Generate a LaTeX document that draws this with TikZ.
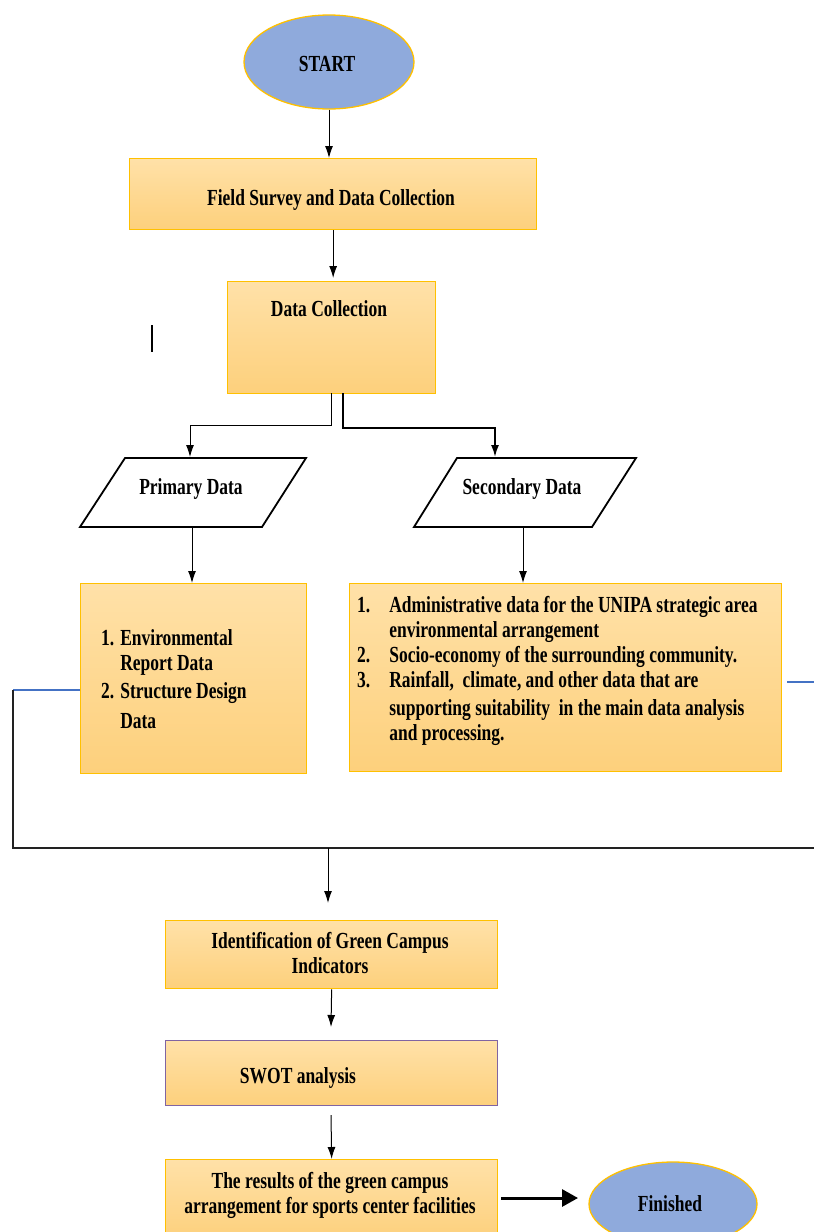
\documentclass[tikz,border=0pt]{standalone}
\usepackage{fontspec}
\setmainfont[FakeStretch=0.76]{Liberation Serif}
\usetikzlibrary{arrows.meta,calc,shapes.geometric}
\definecolor{boxtop}{HTML}{FFE1A8}
\definecolor{boxbot}{HTML}{FDD07C}
\definecolor{gold}{HTML}{FFC000}
\definecolor{ellfill}{HTML}{8FAADC}
\definecolor{purp}{HTML}{8064A2}
\definecolor{blueln}{HTML}{4472C4}
\definecolor{frame}{HTML}{222222}
\begin{document}
\begin{tikzpicture}[x=1pt,y=-1pt,
  box/.style={draw=gold,line width=1.3pt,top color=boxtop,bottom color=boxbot,inner sep=0pt,anchor=north west},
  oval/.style={ellipse,draw=gold,line width=1.3pt,fill=ellfill,inner sep=0pt},
  para/.style={draw=black,line width=1.8pt,fill=white,line join=miter},
  txt/.style={font=\fontsize{23}{25}\selectfont\bfseries,inner sep=0pt,align=center},
  conn/.style={draw=black,line width=1pt,-{Latex[length=12pt,width=8pt]}},
  framel/.style={draw=frame,line width=2pt},
  bluel/.style={draw=blueln,line width=1.6pt},
  bigarr/.style={draw=black,line width=3pt,-{Triangle[length=16pt,width=17pt]}}
]
\useasboundingbox (0,0) rectangle (814,1232);

% Start
\node[oval,minimum width=170pt,minimum height=94pt] (start) at (329,62) {};
\node[txt] (starttxt) at (327,64) {START};

% Field survey
\node[box,minimum width=407pt,minimum height=71pt] (field) at (129,158) {};
\node[txt] (fieldtxt) at (331,200) {Field Survey and Data Collection};

% Data collection
\node[box,minimum width=208pt,minimum height=112pt] (dc) at (227,281) {};
\node[txt] (dctxt) at (329,309) {Data Collection};

\draw[conn] (start.south) -- (start.south |- field.north);
\draw[conn,shorten >=3pt] (field.south) -- (field.south |- dc.north);

% stray mark
\draw[line width=2.6pt] (152,325) -- (152,352);

% Parallelograms
\draw[para] (125,458) -- (306,458) -- (262,527) -- (80,527) -- cycle;
\node[txt] (pd) at (191,489) {Primary Data};
\coordinate (pdin) at (190,457);
\coordinate (pdout) at (192,527);

\draw[para] (457,458) -- (636,458) -- (592,527) -- (414,527) -- cycle;
\node[txt] (sd) at (522,489) {Secondary Data};
\coordinate (sdin) at (495,457);
\coordinate (sdout) at (523,527);

% split from Data Collection
\coordinate (dcL) at (331,393);
\coordinate (dcR) at (343,393);
\draw[conn] (dcL) -- (331,425) -| (pdin);
\draw[conn,line width=1.8pt] (dcR) -- (343,428) -| (sdin);

% Lower boxes
\node[box,minimum width=226pt,minimum height=190pt] (pbox) at (80,583) {};
\node[txt,anchor=north west,align=left] (plist) at (101,628) {%
  \begin{tabular}{@{}l@{\hspace{6pt}}l@{}}
  1. & Environmental\\
     & Report Data\\[3pt]
  2. & Structure Design\\[5pt]
     & Data
  \end{tabular}};

\node[box,minimum width=432pt,minimum height=188pt] (sbox) at (349,583) {};
\node[txt,anchor=north west,align=left] (slist) at (357,595) {%
  \begin{tabular}{@{}l@{\hspace{19pt}}l@{}}
  1. & Administrative data for the UNIPA strategic area\\
     & environmental arrangement\\
  2. & Socio-economy of the surrounding community.\\
  3. & Rainfall,\ \ climate, and other data that are\\[3pt]
     & supporting suitability \ in the main data analysis\\
     & and processing.
  \end{tabular}};

\draw[conn] (pdout) -- (pdout |- pbox.north);
\draw[conn] (sdout) -- (sdout |- sbox.north);

% frame lines
\coordinate (fl) at (13,690);
\coordinate (fb) at (13,848);
\coordinate (fr) at (814,848);
\coordinate (merge) at (328,848);
\coordinate (mergeend) at (328,903);
\draw[bluel] (pbox.west |- fl) -- (fl);
\draw[framel] (fl) -- (fb) -- (fr);
\coordinate (sbr) at (787,682);
\draw[bluel] (sbr) -- (814,682);
\draw[conn] (merge) -- (mergeend);

% Identification
\node[box,minimum width=332pt,minimum height=68pt] (ident) at (165,920) {};
\node[txt] (identtxt) at (330,953) {Identification of Green Campus\\Indicators};

% SWOT
\node[box,draw=purp,minimum width=332pt,minimum height=65pt] (swot) at (165,1040) {};
\node[txt] (swottxt) at (298,1078) {SWOT analysis};

% Results
\node[box,minimum width=332pt,minimum height=80pt] (res) at (165,1159) {};
\node[txt] (restxt) at (330,1195) {The results of the green campus\\arrangement for sports center facilities};

% Finished
\node[oval,minimum width=168pt,minimum height=84pt] (fin) at (673,1204) {};
\node[txt] (fintxt) at (670,1204) {Finished};

\draw[conn] (ident.south) -- (331,1027);
\draw[conn] (331,1115) -- (res.north);
\coordinate (bs) at (501,1198);
\coordinate (be) at (578,1198);
\draw[bigarr] (bs) -- (be);
\end{tikzpicture}
\end{document}
